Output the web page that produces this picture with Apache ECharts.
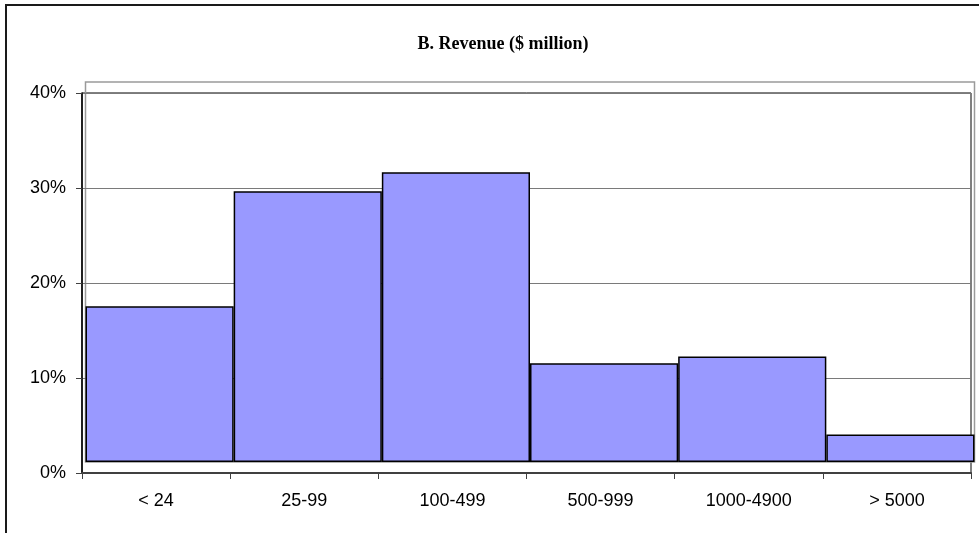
<!DOCTYPE html>
<html>
<head>
<meta charset="utf-8">
<title>B. Revenue ($ million)</title>
<script src="https://cdn.jsdelivr.net/npm/echarts@6/dist/echarts.min.js"></script>
<style>
  html, body { margin: 0; padding: 0; background: #fff; }
  #chart { width: 979px; height: 533px; }
</style>
</head>
<body>
<div id="chart"></div>
<script>
// revenue classes and share of firms (%)
const categories = ['< 24', '25-99', '100-499', '500-999', '1000-4900', '> 5000'];
const shares = [16.4, 28.5, 30.5, 10.4, 11.1, 2.9];
const yTicks = [0, 10, 20, 30, 40];

const chart = echarts.init(document.getElementById('chart'));

const labelFont = { fontFamily: 'Arial, "Liberation Sans", sans-serif', fontSize: 18, color: '#000' };

const option = {
    animation: false,
    backgroundColor: '#fff',
    title: {
        text: 'B. Revenue ($ million)',
        left: 498,
        top: 30,
        textAlign: 'center',
        textStyle: {
            fontFamily: '"Times New Roman", "Liberation Serif", serif',
            fontWeight: 'bold',
            fontSize: 18,
            color: '#000'
        }
    },
    graphic: [{
        type: 'rect',
        shape: { x: 6, y: 5, width: 1000, height: 600 },
        style: { fill: null, stroke: '#1a1a1a', lineWidth: 2 },
        silent: true
    }],
    grid: [
        // front plane: axes, gridlines
        { left: 82, top: 93, width: 889, height: 380, show: true, borderColor: '#000', borderWidth: 1 },
        // back plane: bars sit here (depth offset)
        { left: 85.5, top: 82, width: 889, height: 380, show: true, borderColor: '#9a9a9a', borderWidth: 1.5 }
    ],
    xAxis: [
        {
            gridIndex: 0,
            type: 'category',
            data: categories,
            boundaryGap: true,
            axisLine: { lineStyle: { color: '#404040', width: 2 } },
            axisTick: { show: true, length: 6, lineStyle: { color: '#404040' } },
            axisLabel: { margin: 19, ...labelFont }
        },
        {
            gridIndex: 1,
            type: 'category',
            data: categories,
            boundaryGap: true,
            show: false
        }
    ],
    yAxis: [
        {
            gridIndex: 0,
            type: 'value',
            min: yTicks[0],
            max: yTicks[yTicks.length - 1],
            interval: 10,
            axisLine: { show: true, lineStyle: { color: '#000', width: 1.5 } },
            axisTick: { show: true, length: 6, lineStyle: { color: '#404040' } },
            axisLabel: { margin: 16, formatter: '{value}%', ...labelFont },
            splitLine: { show: true, lineStyle: { color: '#7a7a7a', width: 1.2 } }
        },
        {
            gridIndex: 1,
            type: 'value',
            min: yTicks[0],
            max: yTicks[yTicks.length - 1],
            interval: 10,
            show: false,
            splitLine: { show: false }
        }
    ],
    series: [{
        type: 'bar',
        xAxisIndex: 1,
        yAxisIndex: 1,
        data: shares,
        barCategoryGap: 0,
        itemStyle: { color: '#9999ff', borderColor: '#000', borderWidth: 1.5 },
        z: 5
    }]
};

chart.setOption(option);
</script>
</body>
</html>
